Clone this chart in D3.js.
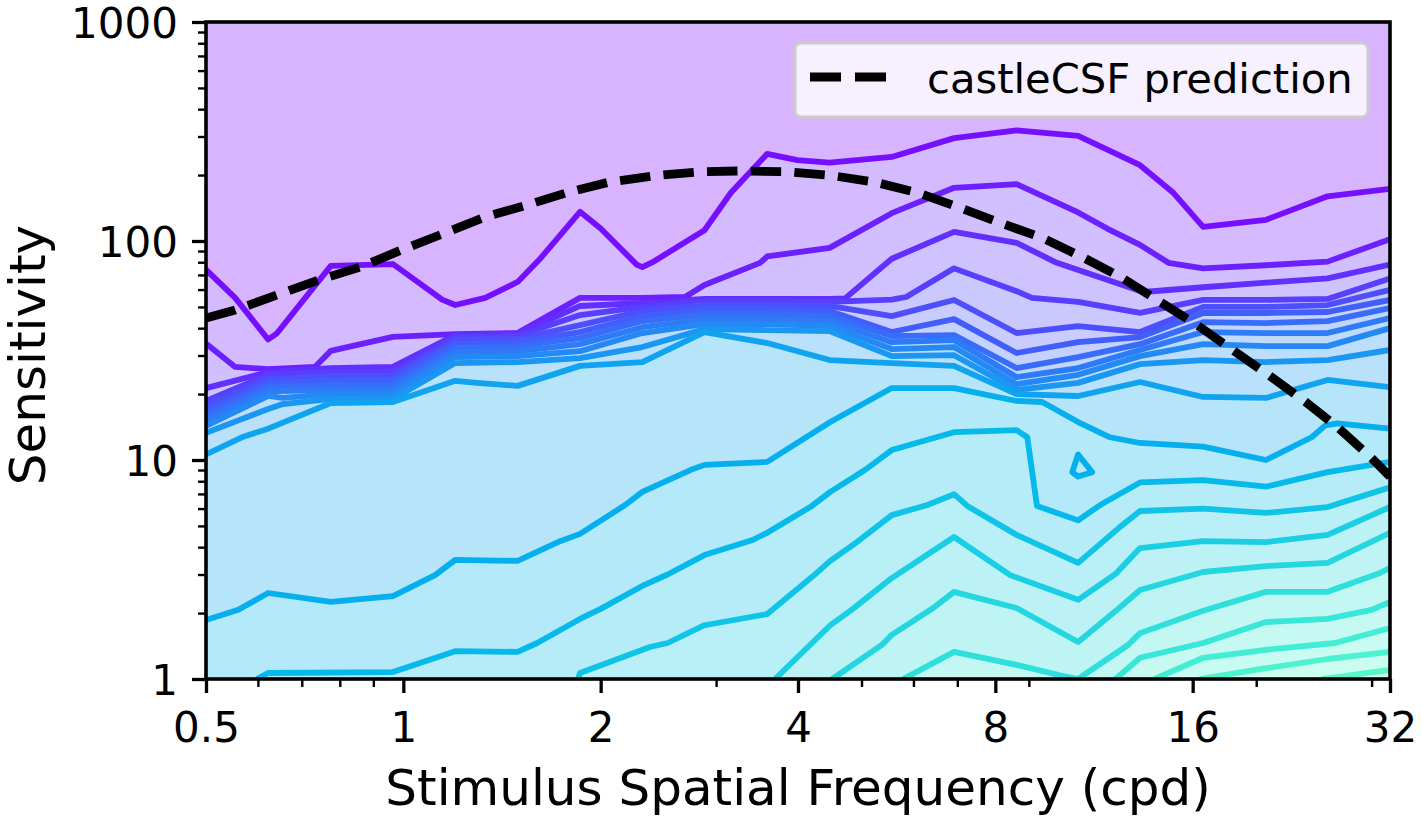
<!DOCTYPE html>
<html>
<head>
<meta charset="utf-8">
<script src="https://cdn.jsdelivr.net/npm/d3@7"></script>
<style>
  html, body { margin: 0; padding: 0; background: white; }
  svg { display: block; }
  text { font-family: "DejaVu Sans", sans-serif; fill: black; }
</style>
</head>
<body>
<div id="chart"></div>
<script>
//tick values and labels
const xMajor = [0.5, 1, 2, 4, 8, 16, 32];
const xMinor = [0.6, 0.7, 0.8, 0.9, 3, 5, 6, 7, 9, 20, 30];
const yMajor = [1, 10, 100, 1000];
const yMinor = [2, 3, 4, 5, 6, 7, 8, 9, 20, 30, 40, 50, 60, 70, 80, 90, 200, 300, 400, 500, 600, 700, 800, 900];

//measured contours, [cpd, sensitivity], highest level first
const contours = [
  [[0.5,74],[0.554,55],[0.622,35.5],[0.642,38],[0.775,77],[0.964,78.5],[1.146,54],[1.2,51],[1.333,55],[1.494,65],[1.617,83],[1.86,136],[2,114],[2.27,78],[2.315,76],[2.4,80],[2.88,112],[3.16,166],[3.59,250],[3.99,234],[4.47,228],[5.56,242],[6.92,295],[8.62,320],[10.7,302],[13.3,222],[14.95,166],[16.6,116],[20.7,125],[25.7,160],[32,173]],
  [[0.5,34],[0.554,26.6],[0.622,26],[0.733,26.6],[0.775,31.5],[0.964,36.5],[1.2,37.6],[1.494,38],[1.86,55],[2.315,55],[2.69,55.5],[2.88,63],[3.5,79.5],[3.59,85],[4.47,93],[5.56,134],[6.92,175],[8.62,182],[10.7,135],[11.85,114],[13.3,96],[14.7,79.5],[16.6,75],[20.7,77.5],[25.7,80.5],[32,102]],
  [[0.5,21.3],[0.622,25.2],[0.775,26.3],[0.964,26.6],[1.2,37.2],[1.494,37.6],[1.86,50.5],[2.315,52.1],[2.88,54.4],[3.59,54.4],[4.47,54.4],[4.72,54.7],[5.56,83],[6.92,110],[8.62,98],[9.93,79.5],[13.45,58.5],[16.6,61.5],[20.7,64.5],[25.7,67.5],[32,78]],
  [[0.5,18.6],[0.622,24.5],[0.775,25.2],[0.964,25.2],[1.2,36.4],[1.494,36.8],[1.86,45.9],[2.315,50],[2.88,53.2],[3.59,53.2],[4.47,52.7],[5.56,54],[5.85,55.5],[6.92,75],[8.62,59],[9.1,55],[10.7,52.7],[13.3,47],[16.6,53.8],[20.7,53.8],[25.7,54.4],[32,67.5]],
  [[0.5,17.8],[0.622,23.4],[0.775,24.2],[0.964,24.2],[1.2,35.3],[1.494,35.7],[1.86,41.3],[2.315,47.9],[2.88,51],[3.59,51],[4.47,50.5],[5.56,45.4],[6.92,53.8],[8.62,38],[10.7,40.9],[13.3,38.4],[16.6,50],[20.7,50],[25.7,51],[29.6,56.5],[32,59.8]],
  [[0.5,16.9],[0.622,22.5],[0.775,23],[0.964,23.2],[1.2,33.8],[1.494,34.5],[1.86,38.4],[2.315,45.4],[2.88,48.9],[3.59,48.9],[4.47,47.9],[5.56,38.4],[6.92,44],[8.62,30.8],[10.7,34.5],[13.3,36.4],[16.6,46.9],[20.7,46.9],[25.7,47.4],[32,53.8]],
  [[0.5,16],[0.622,21.5],[0.775,22],[0.964,22],[1.2,32.4],[1.494,33.1],[1.86,36],[2.315,43.1],[2.88,46.4],[3.59,46.4],[4.47,45.4],[5.56,36.8],[6.92,37.2],[8.62,26.3],[10.7,29.5],[13.3,33.8],[16.6,42.6],[20.7,42.2],[25.7,43.1],[32,49.4]],
  [[0.5,15.2],[0.622,20.6],[0.775,20.9],[0.964,21.1],[1.2,31.1],[1.494,31.4],[1.86,33.8],[2.315,40.4],[2.88,44],[3.59,44],[4.47,43.1],[5.56,34.5],[6.92,35.3],[8.62,23.9],[10.7,26.3],[13.3,31.8],[16.6,38.4],[20.7,38],[25.7,38],[32,44.5]],
  [[0.5,14.3],[0.622,19.6],[0.655,19.2],[0.775,20],[0.964,20],[1.2,29.5],[1.494,29.8],[1.86,31.4],[2.315,38],[2.88,41.7],[3.59,41.7],[4.47,40.9],[5.56,32.1],[6.92,32.8],[8.62,22.2],[10.7,24.5],[13.3,29.8],[16.6,33.8],[20.7,33.1],[25.7,33.1],[32,40]],
  [[0.5,13.3],[0.622,17.1],[0.655,18],[0.775,19],[0.964,19],[1.2,27.7],[1.494,28],[1.86,29.2],[2.315,32.8],[2.88,39.6],[3.59,39.2],[4.47,38.8],[5.56,29.8],[6.92,30.1],[8.62,20.9],[10.7,22.5],[13.3,27.4],[16.6,28.6],[20.7,28],[25.7,28.6],[32,31.8]],
  [[0.5,10.6],[0.567,12.7],[0.622,13.9],[0.775,18.2],[0.964,18.4],[1.2,23],[1.296,22.5],[1.494,21.8],[1.86,26.9],[2.315,28],[2.88,38.4],[3.59,34.2],[4.47,28.6],[5.56,27.7],[6.92,26.9],[8.62,20],[10.7,19.6],[13.3,22.7],[16.6,19.4],[20.7,19.2],[25.7,23.2],[32,21.5]],
  [[0.5,1.86],[0.56,2.07],[0.622,2.47],[0.775,2.25],[0.964,2.39],[1.118,2.98],[1.2,3.5],[1.494,3.46],[1.734,4.26],[1.86,4.6],[2.18,6.23],[2.315,7.15],[2.74,9],[2.88,9.5],[3.59,9.8],[4.48,14.9],[5.56,21.3],[6.92,21.3],[8.62,18.6],[9.43,18.4],[10.7,14.9],[11.97,12.7],[13.3,11.96],[16.6,11.5],[20.7,10],[24.3,12.7],[25.5,14.4],[26.6,14.7],[32,13.9]],
  [[0.598,1],[0.622,1.065],[0.964,1.076],[1.2,1.34],[1.494,1.33],[1.6,1.46],[1.86,1.88],[2,2.09],[2.315,2.66],[2.53,3],[2.88,3.68],[3.4,4.3],[3.59,4.65],[4.2,6.17],[4.48,7.15],[5.06,9],[5.56,11.1],[6.92,13.4],[8.62,13.7],[8.95,12.7],[9.26,6.17],[10.7,5.3],[11.56,6.23],[13.3,7.9],[16.6,8.1],[20.7,7.55],[25.7,8.8],[32,9.8]],
  [[1.847,1],[1.86,1.065],[2.378,1.4],[2.53,1.46],[2.88,1.76],[3.59,1.98],[4.2,2.92],[4.48,3.46],[4.92,4.22],[5.56,5.6],[6.3,6.23],[6.92,6.98],[7.25,6.17],[8.62,4.55],[10.7,3.39],[12.4,4.95],[13.3,5.85],[16.6,6],[20.7,5.73],[25.7,6.1],[32,7.5]],
  [[3.69,1],[4.48,1.76],[4.85,2.09],[5.56,2.89],[6.92,4.45],[8.43,2.98],[10.7,2.3],[12.2,3.02],[13.3,3.96],[16.6,4.26],[20.7,4.22],[25.7,4.55],[32,6.1]],
  [[4.51,1],[5.37,1.43],[5.56,1.59],[6.43,2.11],[6.92,2.5],[8.62,2.11],[10.7,1.475],[12.27,2.07],[13.3,2.55],[16.6,3.08],[20.7,3.28],[25.7,3.39],[32,4.65]],
  [[5.79,1],[6.92,1.33],[8.62,1.16],[10.04,1.04],[10.7,1],[12.75,1.43],[13.3,1.62],[16.6,2.05],[20.7,2.5],[25.7,2.5],[30.9,3.05],[32,3.21]],
  [[12.2,1],[13.3,1.25],[16.6,1.46],[20.7,1.82],[25.7,1.88],[30,2.07],[32,2.25]],
  [[14,1],[16.6,1.25],[20.7,1.36],[26.4,1.46],[32,1.71]],
  [[16.4,1],[20.7,1.12],[25.7,1.234],[32,1.33]],
  [[25.2,1],[32,1.1]]
];
const islandIndex = 11; //the small closed loop near 11 cpd
const island = [[10.7,10.6],[11.24,8.8],[10.7,8.4],[10.48,8.8],[10.7,10.6]];

//castleCSF prediction
const csfFreq = [0.5,0.554,0.642,0.743,0.86,0.993,1.15,1.336,1.545,1.785,2.065,2.43,2.83,3.29,3.85,4.5,5.23,6.1,7.06,8.14,9.46,10.9,12.5,14.27,16.26,18.4,20.9,23.8,26.7,30,32];
const csfSens = [44.5,48.4,56.7,66.4,76,91,108,129,146,167,186,199,207,209,207,199,186,166,142,121,103,84,67.7,52.7,41.3,31.8,24.4,18.4,14,10.2,8.4];

//sizing
const width = 1422;
const height = 821;
const margin = { top: 22, right: 32, bottom: 142, left: 206 };
const plotW = width - margin.left - margin.right;
const plotH = height - margin.top - margin.bottom;

const x = d3.scaleLog().base(2).domain([0.5, 32]).range([0, plotW]);
const y = d3.scaleLog().domain([1, 1000]).range([plotH, 0]);

//matplotlib rainbow colormap
function rainbow(t) {
    const r = Math.abs(2 * t - 0.5);
    const g = Math.sin(Math.PI * t);
    const b = Math.cos(Math.PI * t / 2);
    return [r, g, b].map(v => Math.round(255 * Math.min(1, v)));
}
const lineColor = t => { const c = rainbow(t); return `rgb(${c[0]},${c[1]},${c[2]})`; };
//same colour at alpha .3 over white, so the bands can be painted over each other
const bandColor = t => {
    const c = rainbow(t).map(v => Math.round(v * 0.3 + 255 * 0.7));
    return `rgb(${c[0]},${c[1]},${c[2]})`;
};
const levelT = i => 0.02 + 0.02 * i;

const svg = d3.select("#chart")
    .append("svg")
    .attr("width", width)
    .attr("height", height);

svg.append("defs").append("clipPath").attr("id", "plotClip")
    .append("rect").attr("width", plotW).attr("height", plotH);

const g = svg.append("g").attr("transform", `translate(${margin.left},${margin.top})`);
const plot = g.append("g").attr("clip-path", "url(#plotClip)");

const line = d3.line().x(d => x(d[0])).y(d => y(d[1]));
const area = d3.area().x(d => x(d[0])).y0(plotH).y1(d => y(d[1]));

//filled bands, top one first
plot.append("rect").attr("width", plotW).attr("height", plotH).attr("fill", bandColor(0.005));
plot.selectAll(".band")
    .data(contours)
    .enter()
    .append("path")
    .attr("class", "band")
    .attr("d", d => area(d))
    .attr("fill", (d, i) => bandColor(levelT(i) + 0.01));

//contour lines
plot.selectAll(".level")
    .data(contours)
    .enter()
    .append("path")
    .attr("class", "level")
    .attr("d", d => line(d))
    .attr("fill", "none")
    .attr("stroke", (d, i) => lineColor(levelT(i)))
    .attr("stroke-width", 5.8)
    .attr("stroke-linejoin", "round");

plot.append("path")
    .attr("d", line(island) + "Z")
    .attr("fill", bandColor(levelT(islandIndex)))
    .attr("stroke", lineColor(levelT(islandIndex)))
    .attr("stroke-width", 5.8)
    .attr("stroke-linejoin", "round");

//prediction curve
plot.append("path")
    .attr("d", line(csfFreq.map((f, i) => [f, csfSens[i]])))
    .attr("fill", "none")
    .attr("stroke", "black")
    .attr("stroke-width", 8.8)
    .attr("stroke-dasharray", "30.5,13.2");

//axes
function styleAxis(sel, size) {
    sel.select(".domain").remove();
    sel.selectAll("text").style("font-size", size + "px");
}
const xAxis = g.append("g").attr("transform", `translate(0,${plotH})`)
    .call(d3.axisBottom(x).tickValues(xMajor).tickFormat(d => d).tickSize(14).tickPadding(19));
xAxis.call(styleAxis, 42);
xAxis.selectAll("line").attr("stroke", "black").attr("stroke-width", 3.3);

const yAxis = g.append("g")
    .call(d3.axisLeft(y).tickValues(yMajor).tickFormat(d => d).tickSize(14).tickPadding(14));
yAxis.call(styleAxis, 42);
yAxis.selectAll("text").attr("dy", "0.37em");
yAxis.selectAll("line").attr("stroke", "black").attr("stroke-width", 3.3);

g.append("g").attr("transform", `translate(0,${plotH})`)
    .call(d3.axisBottom(x).tickValues(xMinor).tickFormat("").tickSize(8))
    .call(styleAxis, 42)
    .selectAll("line").attr("stroke", "black").attr("stroke-width", 2.4);

g.append("g")
    .call(d3.axisLeft(y).tickValues(yMinor).tickFormat("").tickSize(8))
    .call(styleAxis, 42)
    .selectAll("line").attr("stroke", "black").attr("stroke-width", 2.4);

//spines
g.append("rect")
    .attr("width", plotW)
    .attr("height", plotH)
    .attr("fill", "none")
    .attr("stroke", "black")
    .attr("stroke-width", 3.6);

//axis titles
svg.append("text")
    .attr("x", 798)
    .attr("y", 805)
    .attr("text-anchor", "middle")
    .style("font-size", "50px")
    .text("Stimulus Spatial Frequency (cpd)");

svg.append("text")
    .attr("transform", "translate(45,355) rotate(-90)")
    .attr("text-anchor", "middle")
    .style("font-size", "50px")
    .text("Sensitivity");

//legend
const legend = svg.append("g");
legend.append("rect")
    .attr("x", 795)
    .attr("y", 43)
    .attr("width", 573)
    .attr("height", 74)
    .attr("rx", 6)
    .attr("fill", "white")
    .attr("fill-opacity", 0.8)
    .attr("stroke", "#cccccc")
    .attr("stroke-width", 3);
legend.append("line")
    .attr("x1", 810)
    .attr("x2", 886)
    .attr("y1", 77)
    .attr("y2", 77)
    .attr("stroke", "black")
    .attr("stroke-width", 8.8)
    .attr("stroke-dasharray", "31,14");
legend.append("text")
    .attr("x", 927)
    .attr("y", 93)
    .style("font-size", "41.7px")
    .text("castleCSF prediction");
</script>
</body>
</html>
